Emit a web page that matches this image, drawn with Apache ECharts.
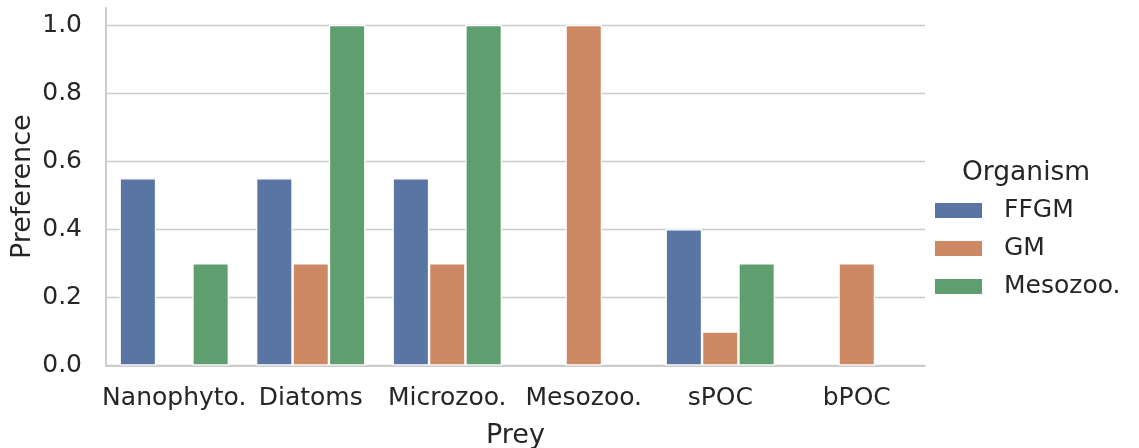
<!DOCTYPE html>
<html>
<head>
<meta charset="utf-8">
<script src="https://cdn.jsdelivr.net/npm/echarts@6/dist/echarts.min.js"></script>
<style>
html,body{margin:0;padding:0;background:#fff;}
#c{width:1139px;height:448px;}
</style>
</head>
<body>
<div id="c"></div>
<script>
const categories = ['Nanophyto.', 'Diatoms', 'Microzoo.', 'Mesozoo.', 'sPOC', 'bPOC'];
const seriesNames = ['FFGM', 'GM', 'Mesozoo.'];
const ffgm = [0.55, 0.55, 0.55, null, 0.4, null];
const gm = [null, 0.3, 0.3, 1.0, 0.1, 0.3];
const mesozoo = [0.3, 1.0, 1.0, null, 0.3, null];
const yTicks = [0, 0.2, 0.4, 0.6, 0.8, 1.0];

const colors = ['#5975a4', '#cc8963', '#5f9e6e'];
const values = [ffgm, gm, mesozoo];
const font = 'DejaVu Sans';
const textColor = '#262626';

const chart = echarts.init(document.getElementById('c'), null, {renderer: 'canvas'});
chart.setOption({
  animation: false,
  backgroundColor: '#fff',
  grid: {left: 106, right: 214, top: 8, bottom: 82.5, containLabel: false, outerBoundsMode: 'none'},
  xAxis: {
    type: 'category',
    data: categories,
    name: 'Prey',
    nameLocation: 'middle',
    nameGap: 57,
    nameMoveOverlap: false,
    nameTextStyle: {fontFamily: font, fontSize: 27, color: textColor},
    axisLine: {show: true, lineStyle: {color: '#cccccc', width: 2}},
    axisTick: {show: false},
    axisLabel: {fontFamily: font, fontSize: 25, color: textColor, margin: 20, interval: 0},
    splitLine: {show: false}
  },
  yAxis: {
    type: 'value',
    min: 0,
    max: 1.05,
    interval: 0.2,
    name: 'Preference',
    nameLocation: 'middle',
    nameGap: 70,
    nameMoveOverlap: false,
    nameRotate: 90,
    nameTextStyle: {fontFamily: font, fontSize: 27, color: textColor},
    axisLine: {show: true, lineStyle: {color: '#cccccc', width: 2}},
    axisTick: {show: false},
    axisLabel: {
      fontFamily: font, fontSize: 25, color: textColor, margin: 24,
      formatter: function (v) { return yTicks.some(t => Math.abs(t - v) < 1e-9) ? v.toFixed(1) : ''; }
    },
    splitLine: {show: true, lineStyle: {color: ['#cccccc','#cccccc','#cccccc','#cccccc','#cccccc','#cccccc','rgba(0,0,0,0)'], width: 1.4}}
  },
  legend: {
    show: true,
    data: seriesNames,
    orient: 'vertical',
    left: 935,
    top: 198,
    padding: 0,
    icon: 'rect',
    itemWidth: 47,
    itemHeight: 15,
    itemGap: 13,
    itemStyle: {borderWidth: 0},
    textStyle: {fontFamily: font, fontSize: 25, color: textColor, padding: [0, 0, 0, 17]}
  },
  graphic: [{
    type: 'text',
    left: 962,
    top: 160,
    style: {text: 'Organism', fontFamily: font, fontSize: 26.5, fill: textColor}
  }],
  series: seriesNames.map((name, i) => ({
    name: name,
    type: 'bar',
    data: values[i],
    barGap: '0%',
    barCategoryGap: '20%',
    itemStyle: {color: colors[i], borderColor: '#ffffff', borderWidth: 1.2}
  }))
});
</script>
</body>
</html>
